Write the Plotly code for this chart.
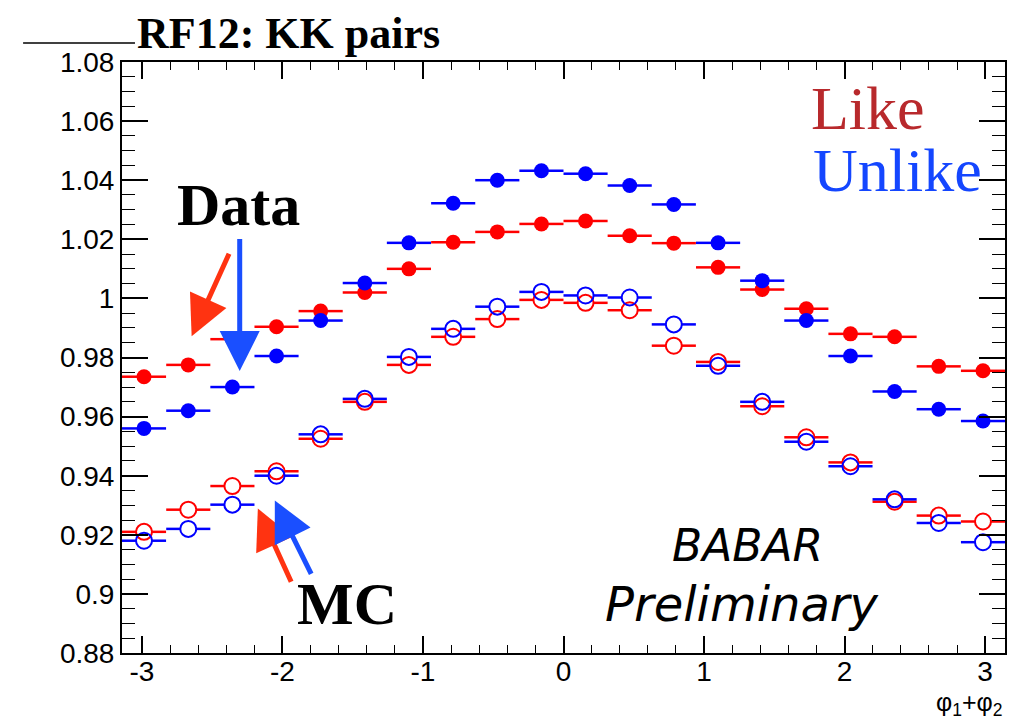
import plotly.graph_objects as go

# ---------------- data ----------------
bin_centers = [-2.985, -2.670, -2.356, -2.042, -1.728, -1.414, -1.100, -0.785, -0.471, -0.157,
               0.157, 0.471, 0.785, 1.100, 1.414, 1.728, 2.042, 2.356, 2.670, 2.985]
bin_half_width = 0.157

data_like = [0.9735, 0.9775, 0.9862, 0.9904, 0.9957, 1.0020, 1.0100, 1.0190, 1.0225, 1.0252,
             1.0262, 1.0212, 1.0187, 1.0105, 1.0030, 0.9965, 0.9880, 0.9870, 0.9770, 0.9755]
data_unlike = [0.9560, 0.9620, 0.9700, 0.9805, 0.9925, 1.0052, 1.0188, 1.0322, 1.0400, 1.0432,
               1.0422, 1.0382, 1.0318, 1.0188, 1.0060, 0.9925, 0.9805, 0.9685, 0.9625, 0.9585]
mc_like = [0.9210, 0.9285, 0.9365, 0.9415, 0.9525, 0.9650, 0.9775, 0.9870, 0.9930, 0.9995,
           0.9985, 0.9960, 0.9840, 0.9785, 0.9635, 0.9530, 0.9445, 0.9312, 0.9265, 0.9245]
mc_unlike = [0.9180, 0.9220, 0.9302, 0.9400, 0.9540, 0.9660, 0.9802, 0.9897, 0.9972, 1.0022,
             1.0010, 1.0003, 0.9912, 0.9772, 0.9650, 0.9515, 0.9432, 0.9320, 0.9240, 0.9175]

x_tick_vals = [-3, -2, -1, 0, 1, 2, 3]
x_tick_text = ["-3", "-2", "-1", "0", "1", "2", "3"]
y_tick_vals = [0.88, 0.90, 0.92, 0.94, 0.96, 0.98, 1.00, 1.02, 1.04, 1.06, 1.08]
y_tick_text = ["0.88", "0.9", "0.92", "0.94", "0.96", "0.98", "1", "1.02", "1.04", "1.06", "1.08"]

RED = "#ff0000"
BLUE = "#0000ff"

fig = go.Figure()


def bars(xs, ys, gap):
    bx, by = [], []
    for x, y in zip(xs, ys):
        bx += [x - bin_half_width, x - gap, None, x + gap, x + bin_half_width, None]
        by += [y, y, None, y, y, None]
    return bx, by


def add_series(ys, color, symbol, gap):
    bx, by = bars(bin_centers, ys, gap)
    fig.add_trace(go.Scatter(x=bx, y=by, mode="lines", line=dict(color=color, width=2.5),
                             hoverinfo="skip", showlegend=False))
    if symbol == "circle":
        marker = dict(symbol="circle", size=15, color=color, line=dict(width=0))
    else:
        marker = dict(symbol="circle-open", size=16, color=color, line=dict(width=2, color=color))
    fig.add_trace(go.Scatter(x=bin_centers, y=ys, mode="markers", marker=marker, showlegend=False))


add_series(mc_like, RED, "open", 0.055)
add_series(mc_unlike, BLUE, "open", 0.055)
add_series(data_like, RED, "circle", 0.0)
add_series(data_unlike, BLUE, "circle", 0.0)

serif = "Liberation Serif"
script_font = "DejaVu Sans"
ann = []
# title
ann.append(dict(text="<b>RF12: KK pairs</b>", xref="paper", yref="paper", x=0.0147, y=1.004,
                xanchor="left", yanchor="bottom", showarrow=False,
                font=dict(family=serif, size=44, color="black")))
# Like / Unlike
ann.append(dict(text="Like", x=2.165, y=1.0645, xref="x", yref="y", showarrow=False,
                xanchor="center", yanchor="middle", font=dict(family=serif, size=62, color="#b8292c")))
ann.append(dict(text="Unlike", x=2.375, y=1.0435, xref="x", yref="y", showarrow=False,
                xanchor="center", yanchor="middle", font=dict(family=serif, size=62, color="#1446ff")))
# Data / MC
ann.append(dict(text="<b>Data</b>", x=-2.31, y=1.0315, xref="x", yref="y", showarrow=False,
                xanchor="center", yanchor="middle", font=dict(family=serif, size=60, color="black")))
ann.append(dict(text="<b>MC</b>", x=-1.54, y=0.8965, xref="x", yref="y", showarrow=False,
                xanchor="center", yanchor="middle", font=dict(family=serif, size=60, color="black")))
# BABAR preliminary
ann.append(dict(text="<i>BABAR</i>", x=1.31, y=0.9165, xref="x", yref="y", showarrow=False,
                xanchor="center", yanchor="middle",
                font=dict(family=script_font, size=44, color="black", weight=300)))
ann.append(dict(text="<i>Preliminary</i>", x=1.27, y=0.8965, xref="x", yref="y", showarrow=False,
                xanchor="center", yanchor="middle",
                font=dict(family=script_font, size=48, color="black", weight=300)))
# axis title
ann.append(dict(text="φ<sub>1</sub>+φ<sub>2</sub>", xref="paper", yref="paper", x=1.0, y=-0.056,
                xanchor="right", yanchor="top", showarrow=False,
                font=dict(family="Liberation Sans", size=25, color="black")))

# arrows (head at x,y ; tail at ax,ay)
arrow_specs = [
    (-2.646, 0.9872, -2.375, 1.0156, "#ff3311"),
    (-2.304, 0.9754, -2.304, 1.0206, "#1a4fff"),
    (-2.175, 0.9289, -1.933, 0.9036, "#ff3311"),
    (-2.054, 0.9316, -1.790, 0.9063, "#1a4fff"),
]
for hx, hy, tx, ty, col in arrow_specs:
    ann.append(dict(x=hx, y=hy, ax=tx, ay=ty, xref="x", yref="y", axref="x", ayref="y",
                    text="", showarrow=True, arrowhead=2, arrowsize=1.6, arrowwidth=5,
                    arrowcolor=col, standoff=0, startstandoff=0))

fig.update_layout(
    width=1015, height=713,
    margin=dict(l=114, r=18, t=54, b=68, autoexpand=False),
    paper_bgcolor="white", plot_bgcolor="white",
    annotations=ann,
    shapes=[dict(type="line", xref="paper", yref="paper", x0=-0.112, x1=0.0147, y0=1.032, y1=1.032,
                 line=dict(color="black", width=1.5))],
    xaxis=dict(range=[-3.14159, 3.14159], tickvals=x_tick_vals, ticktext=x_tick_text,
               ticks="inside", ticklen=17, tickwidth=1.5, tickcolor="black",
               minor=dict(dtick=0.2, ticks="inside", ticklen=8, tickwidth=1.2, tickcolor="black"),
               showline=True, linecolor="black", linewidth=2, mirror="allticks",
               showgrid=False, zeroline=False, automargin=False, ticklabelstandoff=-8,
               tickfont=dict(family="Liberation Sans", size=28, color="black")),
    yaxis=dict(range=[0.88, 1.08], tickvals=y_tick_vals, ticktext=y_tick_text,
               ticks="inside", ticklen=26, tickwidth=1.5, tickcolor="black",
               minor=dict(dtick=0.005, ticks="inside", ticklen=13, tickwidth=1.2, tickcolor="black"),
               showline=True, linecolor="black", linewidth=2, mirror="allticks",
               showgrid=False, zeroline=False, automargin=False,
               tickfont=dict(family="Liberation Sans", size=28, color="black")),
)

fig.write_html("out.html")
